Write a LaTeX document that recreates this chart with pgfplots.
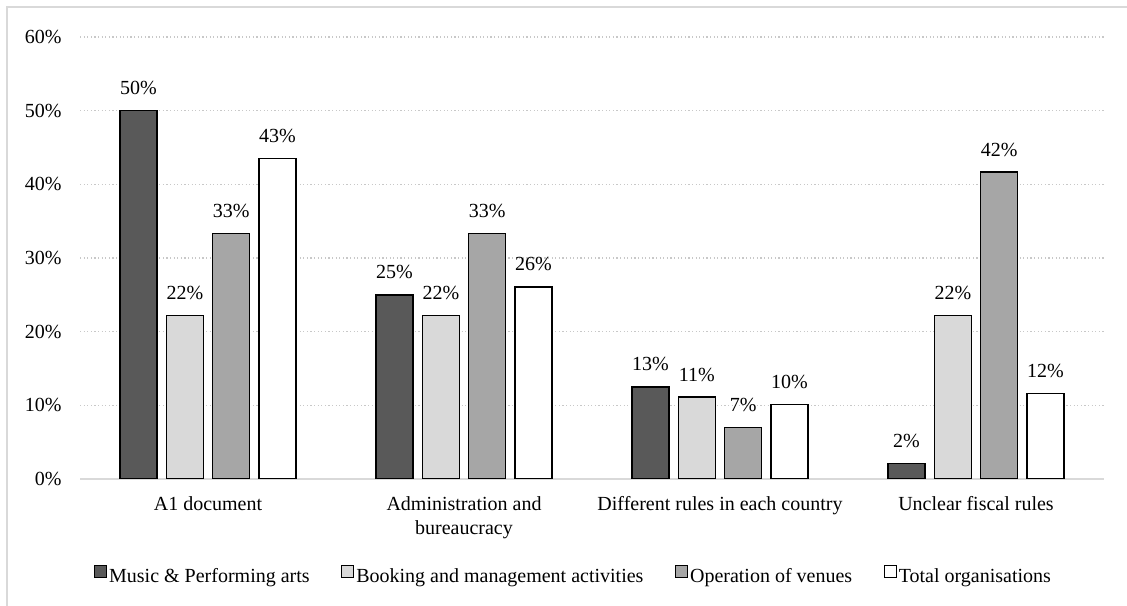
\documentclass[border=0pt]{standalone}
\usepackage{fontspec}
\setmainfont{Liberation Serif}
\usepackage{pgfplots}
\pgfplotsset{compat=1.18}

\definecolor{darkbar}{HTML}{595959}
\definecolor{lightbar}{HTML}{D9D9D9}
\definecolor{midbar}{HTML}{A6A6A6}
\definecolor{framegray}{HTML}{D9D9D9}
\definecolor{gridgray}{HTML}{C8C8C8}

\begin{document}
\fontsize{10bp}{12bp}\selectfont
\begin{tikzpicture}
\path[use as bounding box] (0,0) rectangle (563.5bp,303bp);
\draw[framegray, line width=0.8bp] (3.5bp,0) -- (3.5bp,299.5bp) -- (563.5bp,299.5bp);

\begin{axis}[
    at={(40bp,63.5bp)}, anchor=south west,
    width=512bp, height=221bp, scale only axis,
    xmin=-0.5, xmax=3.5, ymin=0, ymax=60,
    ybar=4.65bp, bar width=18.5bp,
    xtick={0,1,2,3},
    xticklabels={A1 document, {Administration and\\bureaucracy}, Different rules in each country, Unclear fiscal rules},
    xticklabel style={align=center, anchor=north, inner sep=0pt, yshift=-8.7bp},
    ytick={0,10,...,60},
    /pgf/number format/assume math mode=true,
    yticklabel={\pgfmathprintnumber{\tick}\%},
    yticklabel style={anchor=east, inner sep=0pt, xshift=-9bp},
    major tick length=0pt,
    ymajorgrids,
    grid style={gridgray, line width=0.6bp, dash pattern=on 0.6bp off 1.2bp},
    axis x line*=bottom, axis y line*=left,
    axis line style={-},
    x axis line style={framegray, line width=1bp},
    y axis line style={draw=none},
    every axis plot/.append style={draw=black, line width=0.75bp},
    nodes near coords={\pgfmathprintnumber[fixed,precision=0]{\pgfplotspointmeta}\%},
    nodes near coords style={anchor=base, inner sep=0pt, yshift=8bp, black},
    legend style={at={(0.482,-0.2195)}, anchor=center, draw=none, fill=none,
        legend columns=-1, nodes={inner sep=1bp},
        /tikz/every even column/.append style={column sep=14.8bp}},
    legend image code/.code={\draw[#1, line width=0.5bp] (0bp,-0.3bp) rectangle (6bp,5.7bp);},
]
\addplot[fill=darkbar] coordinates {(0,50) (1,25) (2,12.5) (3,2.08)};
\addplot[fill=lightbar] coordinates {(0,22.22) (1,22.22) (2,11.11) (3,22.22)};
\addplot[fill=midbar] coordinates {(0,33.33) (1,33.33) (2,7.0) (3,41.67)};
\addplot[fill=white] coordinates {(0,43.48) (1,26.09) (2,10.14) (3,11.59)};
\legend{Music \& Performing arts, Booking and management activities, Operation of venues, Total organisations}
\end{axis}
\end{tikzpicture}
\end{document}
